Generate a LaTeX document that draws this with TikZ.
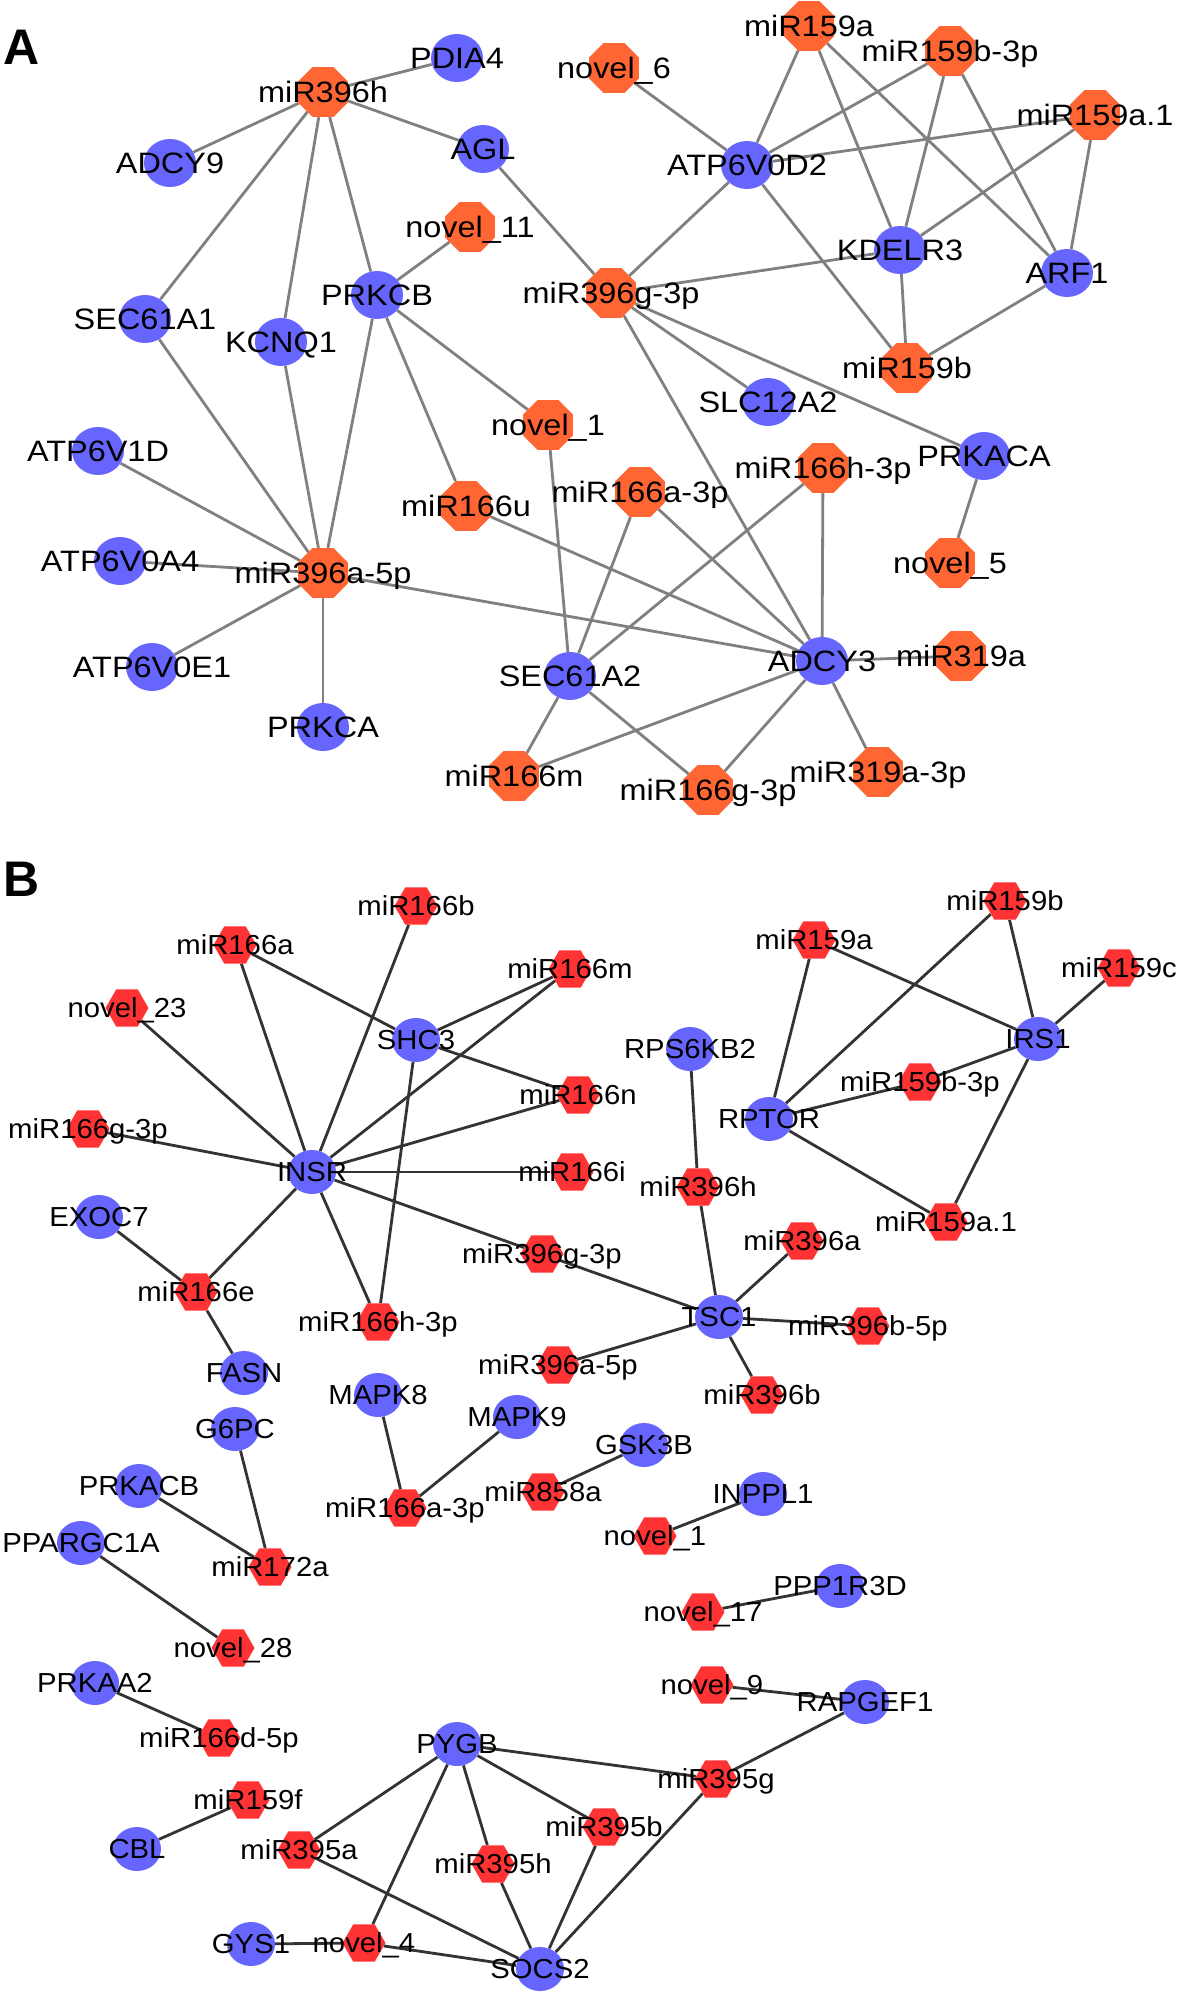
\documentclass[tikz,border=0pt]{standalone}
\usepackage{fontspec}
\setmainfont{Liberation Sans}
\newfontfamily\fontA[FakeStretch=1.1]{Liberation Sans}
\newfontfamily\fontB[FakeStretch=1.065]{Liberation Sans}
\usetikzlibrary{shapes.geometric,backgrounds}
\definecolor{corange}{HTML}{FF6633}
\definecolor{cblue}{HTML}{6666FF}
\definecolor{cred}{HTML}{FF3333}
\definecolor{cgray}{HTML}{808080}
\definecolor{cdark}{HTML}{333333}
\begin{document}
\begin{tikzpicture}[x=1pt,y=-1pt,
  gA/.style={draw=none,fill=cblue,ellipse,minimum width=52pt,minimum height=48pt,inner sep=0pt},
  mA/.style={draw=none,fill=corange,regular polygon,regular polygon sides=8,minimum size=54pt,inner sep=0pt},
  gB/.style={draw=none,fill=cblue,ellipse,minimum width=48pt,minimum height=44pt,inner sep=0pt},
  mB/.style={draw=none,fill=cred,regular polygon,regular polygon sides=6,minimum size=43pt,inner sep=0pt},
  labA/.style={font=\fontA\fontsize{29.5}{33}\selectfont,inner sep=0pt,text height=21.1pt,text depth=0pt},
  labB/.style={font=\fontB\fontsize{27.5}{31}\selectfont,inner sep=0pt,text height=19.7pt,text depth=0pt},
  panel/.style={font=\fontsize{50}{60}\selectfont\bfseries,inner sep=0pt,text height=36pt,text depth=0pt},
  eA/.style={draw=cgray,line width=2.8pt},
  eB/.style={draw=cdark,line width=2.8pt}]
\useasboundingbox (0,0) rectangle (1181,1996);

% ---------------- Panel A nodes ----------------
\node[mA] (a396h) at (323,92) {};
\node[gA] (aPDIA4) at (457,58) {};
\node[gA] (aADCY9) at (170,163) {};
\node[gA] (aAGL) at (483,149) {};
\node[mA] (an11) at (470,227) {};
\node[gA] (aPRKCB) at (377,295) {};
\node[gA] (aSEC61A1) at (145,319) {};
\node[gA] (aKCNQ1) at (281,342) {};
\node[mA] (an6) at (614,68) {};
\node[mA] (a159a) at (809,26) {};
\node[mA] (a159b3p) at (950,51) {};
\node[mA] (a159a1) at (1095,115) {};
\node[gA] (aATP6V0D2) at (747,165) {};
\node[gA] (aKDELR3) at (900,250) {};
\node[gA] (aARF1) at (1067,273) {};
\node[mA] (a396g) at (611,293) {};
\node[mA] (a159b) at (907,368) {};
\node[gA] (aSLC12A2) at (768,402) {};
\node[gA] (aATP6V1D) at (98,451) {};
\node[gA] (aATP6V0A4) at (120,561) {};
\node[mA] (a396a) at (323,573) {};
\node[gA] (aATP6V0E1) at (152,667) {};
\node[gA] (aPRKCA) at (323,727) {};
\node[mA] (an1) at (548,425) {};
\node[mA] (a166u) at (466,506) {};
\node[gA] (aSEC61A2) at (570,676) {};
\node[mA] (a166m) at (514,776) {};
\node[mA] (a166a) at (640,492) {};
\node[mA] (a166h) at (823,468) {};
\node[gA] (aPRKACA) at (984,456) {};
\node[mA] (an5) at (950,563) {};
\node[gA] (aADCY3) at (822,661) {};
\node[mA] (a319a) at (961,656) {};
\node[mA] (a166g) at (708,790) {};
\node[mA] (a319a3p) at (878,772) {};

% ---------------- Panel B nodes ----------------
\node[mB] (b166b) at (416,906) {};
\node[mB] (b166a) at (235,945) {};
\node[mB] (bn23) at (127,1008) {};
\node[gB] (bSHC3) at (416,1040) {};
\node[mB] (b166m) at (570,969) {};
\node[mB] (b166n) at (578,1095) {};
\node[mB] (b166g) at (88,1129) {};
\node[gB] (bINSR) at (312,1172) {};
\node[mB] (b166i) at (572,1172) {};
\node[gB] (bEXOC7) at (99,1217) {};
\node[mB] (b396g) at (542,1254) {};
\node[mB] (b166e) at (196,1292) {};
\node[mB] (b166h) at (378,1322) {};
\node[gB] (bFASN) at (244,1373) {};
\node[mB] (b396a5p) at (558,1365) {};
\node[gB] (bMAPK8) at (378,1395) {};
\node[mB] (b159b) at (1005,901) {};
\node[mB] (b159a) at (814,940) {};
\node[mB] (b159c) at (1119,968) {};
\node[gB] (bRPS6KB2) at (690,1049) {};
\node[gB] (bIRS1) at (1038,1039) {};
\node[mB] (b159b3p) at (920,1082) {};
\node[gB] (bRPTOR) at (769,1119) {};
\node[mB] (b396h) at (698,1187) {};
\node[mB] (b159a1) at (946,1222) {};
\node[mB] (b396a) at (802,1241) {};
\node[gB] (bTSC1) at (719,1317) {};
\node[mB] (b396b5p) at (868,1326) {};
\node[mB] (b396b) at (762,1395) {};
\node[gB] (bMAPK9) at (517,1417) {};
\node[gB] (bG6PC) at (235,1429) {};
\node[gB] (bPRKACB) at (139,1486) {};
\node[mB] (b166a3p) at (405,1508) {};
\node[mB] (b858a) at (543,1492) {};
\node[gB] (bPPARGC1A) at (81,1543) {};
\node[mB] (b172a) at (270,1567) {};
\node[mB] (bn28) at (233,1648) {};
\node[gB] (bPRKAA2) at (95,1683) {};
\node[mB] (b166d) at (219,1738) {};
\node[gB] (bPYGB) at (457,1744) {};
\node[mB] (b159f) at (248,1800) {};
\node[gB] (bCBL) at (137,1849) {};
\node[mB] (b395a) at (299,1850) {};
\node[mB] (b395h) at (493,1864) {};
\node[mB] (b395b) at (604,1827) {};
\node[gB] (bGYS1) at (251,1944) {};
\node[mB] (bn4) at (364,1943) {};
\node[gB] (bSOCS2) at (540,1969) {};
\node[gB] (bGSK3B) at (644,1445) {};
\node[gB] (bINPPL1) at (763,1494) {};
\node[mB] (bn1) at (655,1536) {};
\node[gB] (bPPP1R3D) at (840,1586) {};
\node[mB] (bn17) at (703,1612) {};
\node[mB] (bn9) at (712,1685) {};
\node[gB] (bRAPGEF1) at (865,1702) {};
\node[mB] (b395g) at (716,1779) {};

% ---------------- edges (behind) ----------------
\begin{scope}[on background layer]
\fill[white] (0,0) rectangle (1181,1996);
% panel A
\foreach \t in {aPDIA4,aADCY9,aAGL,aSEC61A1,aKCNQ1,aPRKCB} \draw[eA] (a396h) -- (\t);
\draw[eA] (aAGL) -- (a396g);
\draw[eA] (an11) -- (aPRKCB);
\foreach \t in {a396a,a166u,an1} \draw[eA] (aPRKCB) -- (\t);
\draw[eA] (aSEC61A1) -- (a396a);
\draw[eA] (aKCNQ1) -- (a396a);
\foreach \t in {aATP6V1D,aATP6V0A4,aATP6V0E1,aPRKCA,aADCY3} \draw[eA] (a396a) -- (\t);
\draw[eA] (a166u) -- (aADCY3);
\draw[eA] (an1) -- (aSEC61A2);
\draw[eA] (a166a) -- (aSEC61A2);
\draw[eA] (a166a) -- (aADCY3);
\draw[eA] (a166h) -- (aSEC61A2);
\draw[eA] (a166h) -- (aADCY3);
\foreach \t in {aADCY3,aSLC12A2,aPRKACA,aATP6V0D2,aKDELR3} \draw[eA] (a396g) -- (\t);
\draw[eA] (an6) -- (aATP6V0D2);
\foreach \t in {a159a,a159b3p,a159a1,a159b} \draw[eA] (aATP6V0D2) -- (\t);
\foreach \s in {a159a,a159b3p,a159a1} {\draw[eA] (\s) -- (aKDELR3); \draw[eA] (\s) -- (aARF1);}
\draw[eA] (aKDELR3) -- (a159b);
\draw[eA] (aARF1) -- (a159b);
\draw[eA] (aPRKACA) -- (an5);
\foreach \t in {a319a,a166m,a166g,a319a3p} \draw[eA] (aADCY3) -- (\t);
\draw[eA] (aSEC61A2) -- (a166m);
\draw[eA] (aSEC61A2) -- (a166g);
% panel B
\foreach \t in {bn23,b166a,b166b,b166m,b166n,b166i,b396g,b166h,b166e,b166g} \draw[eB] (bINSR) -- (\t);
\foreach \t in {b166a,b166m,b166n,b166h} \draw[eB] (bSHC3) -- (\t);
\draw[eB] (bEXOC7) -- (b166e);
\draw[eB] (b166e) -- (bFASN);
\draw[eB] (b396g) -- (bTSC1);
\draw[eB] (b396a5p) -- (bTSC1);
\foreach \t in {b396h,b396a,b396b5p,b396b} \draw[eB] (bTSC1) -- (\t);
\draw[eB] (bRPS6KB2) -- (b396h);
\foreach \t in {b159a,b159b,b159b3p,b159a1} \draw[eB] (bRPTOR) -- (\t);
\foreach \t in {b159a,b159b,b159c,b159b3p,b159a1} \draw[eB] (bIRS1) -- (\t);
\draw[eB] (bMAPK8) -- (b166a3p);
\draw[eB] (bMAPK9) -- (b166a3p);
\draw[eB] (bGSK3B) -- (b858a);
\draw[eB] (bINPPL1) -- (bn1);
\draw[eB] (bPPP1R3D) -- (bn17);
\draw[eB] (bn9) -- (bRAPGEF1);
\draw[eB] (bRAPGEF1) -- (b395g);
\draw[eB] (bG6PC) -- (b172a);
\draw[eB] (bPRKACB) -- (b172a);
\draw[eB] (bPPARGC1A) -- (bn28);
\draw[eB] (bPRKAA2) -- (b166d);
\draw[eB] (bCBL) -- (b159f);
\foreach \t in {b395g,b395a,bn4,b395h,b395b} \draw[eB] (bPYGB) -- (\t);
\foreach \t in {b395a,b395h,b395b,b395g,bn4} \draw[eB] (bSOCS2) -- (\t);
\draw[eB] (bGYS1) -- (bn4);
\end{scope}

% ---------------- labels ----------------
\node[panel] (pA) at (22,47) {A};
\node[panel] (pB) at (22,878) {B};

\foreach \n/\t in {a396h/miR396h,aPDIA4/PDIA4,aADCY9/ADCY9,aAGL/AGL,an11/novel\_11,aPRKCB/PRKCB,
  aSEC61A1/SEC61A1,aKCNQ1/KCNQ1,an6/novel\_6,a159a/miR159a,a159b3p/miR159b-3p,a159a1/miR159a.1,
  aATP6V0D2/ATP6V0D2,aKDELR3/KDELR3,aARF1/ARF1,a396g/miR396g-3p,a159b/miR159b,aSLC12A2/SLC12A2,
  aATP6V1D/ATP6V1D,aATP6V0A4/ATP6V0A4,a396a/miR396a-5p,aATP6V0E1/ATP6V0E1,aPRKCA/PRKCA,an1/novel\_1,
  a166u/miR166u,aSEC61A2/SEC61A2,a166m/miR166m,a166a/miR166a-3p,a166h/miR166h-3p,aPRKACA/PRKACA,
  an5/novel\_5,aADCY3/ADCY3,a319a/miR319a,a166g/miR166g-3p,a319a3p/miR319a-3p}
  \node[labA] (\n-t) at (\n) {\t};

\foreach \n/\t in {b166b/miR166b,b166a/miR166a,bn23/novel\_23,bSHC3/SHC3,b166m/miR166m,b166n/miR166n,
  b166g/miR166g-3p,bINSR/INSR,b166i/miR166i,bEXOC7/EXOC7,b396g/miR396g-3p,b166e/miR166e,
  b166h/miR166h-3p,bFASN/FASN,b396a5p/miR396a-5p,bMAPK8/MAPK8,b159b/miR159b,b159a/miR159a,
  b159c/miR159c,bRPS6KB2/RPS6KB2,bIRS1/IRS1,b159b3p/miR159b-3p,bRPTOR/RPTOR,b396h/miR396h,
  b159a1/miR159a.1,b396a/miR396a,bTSC1/TSC1,b396b5p/miR396b-5p,b396b/miR396b,bMAPK9/MAPK9,
  bG6PC/G6PC,bPRKACB/PRKACB,b166a3p/miR166a-3p,b858a/miR858a,bPPARGC1A/PPARGC1A,b172a/miR172a,
  bn28/novel\_28,bPRKAA2/PRKAA2,b166d/miR166d-5p,bPYGB/PYGB,b159f/miR159f,bCBL/CBL,b395a/miR395a,
  b395h/miR395h,b395b/miR395b,bGYS1/GYS1,bn4/novel\_4,bSOCS2/SOCS2,bGSK3B/GSK3B,bINPPL1/INPPL1,
  bn1/novel\_1,bPPP1R3D/PPP1R3D,bn17/novel\_17,bn9/novel\_9,bRAPGEF1/RAPGEF1,b395g/miR395g}
  \node[labB] (\n-t) at (\n) {\t};
\end{tikzpicture}
\end{document}
